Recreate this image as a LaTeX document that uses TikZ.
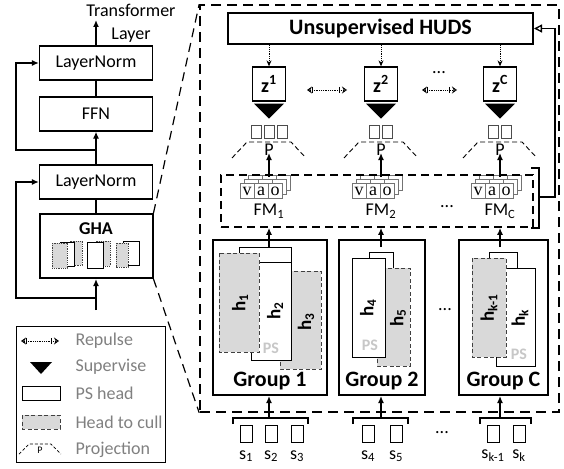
\documentclass[tikz,border=0pt]{standalone}
\usepackage{fontspec}
\setmainfont{Carlito}
\newfontfamily\vaofont{Liberation Serif}
\usetikzlibrary{arrows.meta,calc,positioning}

\newcommand\fsz[1]{\fontsize{#1}{#1}\selectfont}

\tikzset{
  lw/.style={line width=1.3pt},
  blk/.style={draw,lw,minimum width=113pt,minimum height=34pt,inner sep=0pt},
  bigbox/.style={draw,line width=1.6pt,dash pattern=on 10pt off 6pt},
  zoomln/.style={line width=1.2pt,dash pattern=on 9pt off 6pt},
  hudsbox/.style={draw,line width=2pt,minimum width=305pt,minimum height=31pt,font=\fsz{22}\bfseries},
  zbox/.style={draw,lw,minimum width=33pt,minimum height=34pt,inner sep=0pt,font=\fsz{20}\bfseries},
  grp/.style={draw,line width=2pt,minimum height=155pt},
  grplbl/.style={font=\fsz{22}\bfseries},
  headps/.style={draw,fill=white,line width=1pt},
  headcull/.style={draw=black!75,fill=black!15,line width=1pt,dash pattern=on 4pt off 2.5pt},
  mini/.style={line width=0.6pt,dash pattern=on 1pt off 0.8pt},
  hlbl/.style={rotate=90,font=\fsz{19}\bfseries},
  pslbl/.style={text=black!22,font=\fsz{16}\bfseries},
  fmbox/.style={draw,line width=1.8pt,dash pattern=on 8pt off 5pt},
  card/.style={draw=black!55,fill=white,line width=0.8pt,minimum width=14pt,minimum height=15pt,inner sep=0pt,font=\vaofont\fsz{18}},
  sq/.style={draw=black!70,line width=0.8pt,minimum width=10pt,minimum height=13pt,inner sep=0pt},
  insq/.style={draw,line width=0.9pt,minimum width=12pt,minimum height=17pt,inner sep=0pt},
  projd/.style={line width=0.9pt,dash pattern=on 5pt off 3pt},
  dotarr/.style={densely dotted,line width=0.9pt,-{Stealth[length=6pt,width=5pt]}},
  repulse/.style={densely dotted,line width=0.8pt,
    {Stealth[open,length=5pt,width=7pt,sep=2pt]Bar[width=6pt]}-{Bar[width=6pt,sep=2pt]Stealth[open,length=5pt,width=7pt]}},
  lgtxt/.style={anchor=west,text=black!50},
}

\begin{document}
\begin{tikzpicture}[x=1pt,y=-1pt,font=\fsz{18},>={Latex[length=7pt,width=6pt]}]
\useasboundingbox (0,0) rectangle (564,468);

% transformer layer
\node[blk] (ln2) at (96,63) {LayerNorm};
\node[blk] (ffn) at (96,114) {FFN};
\node[blk] (ln1) at (96,182) {LayerNorm};
\node[blk,line width=2pt,minimum height=64pt] (gha) at (96,246) {};
\node[anchor=north,font=\fsz{18}\bfseries] (ghat) at ($(gha.north)+(0,6)$) {GHA};
\node[align=center,font=\fontsize{18}{23}\selectfont] (tl) at (131,23) {Transformer\\Layer};
\coordinate (out) at (96,20);
\coordinate (r2) at (96,150);
\coordinate (r1) at (96,298);
\coordinate (in) at (96,310);
\draw[lw,->] (ln2.north) -- (out);
\draw[lw] (ffn.north) -- (ln2.south);
\draw[lw,->] (ln1.north) -- (ffn.south);
\draw[lw] (gha.north) -- (ln1.south);
\draw[lw,->] (in) -- (gha.south);
\draw[lw,->] (r2) -- ++(-80,0) |- (ln2.west);
\draw[lw,->] (r1) -- ++(-80,0) |- (ln1.west);

% heads inside GHA
\draw[headcull,mini] (70,241) rectangle (82,265);
\draw[headps,mini,solid] (60,242) rectangle (74,266);
\draw[headcull,mini] (52,243) rectangle (67,268);
\draw[headcull,mini] (96,241) rectangle (110,266);
\draw[headps,mini,solid] (87,242) rectangle (103,268);
\draw[headps,mini,solid] (123,241) rectangle (139,265);
\draw[headcull,mini] (116,243) rectangle (128,267);

% legend
\node[draw,line width=1pt,minimum width=149pt,minimum height=136pt] (lg) at (90.5,394) {};
\coordinate (lga) at (19,341);
\coordinate (lgb) at (59,341);
\draw[repulse] (lga) -- (lgb);
\fill (30,362) -- (52,362) -- (41,374) -- cycle;
\draw[headps] (22,386) rectangle (60,400);
\draw[headcull] (22,415) rectangle (60,429);
\draw[projd,line width=0.7pt,dash pattern=on 3pt off 2pt] (19,454) -- (29,444) -- (51,444) -- (61,454);
\node[font=\fsz{10}] (lgp) at (40,450) {P};
\node[lgtxt] (t1) at (72,341) {Repulse};
\node[lgtxt] (t2) at (72,367) {Supervise};
\node[lgtxt] (t3) at (72,393) {PS head};
\node[lgtxt] (t4) at (72,422) {Head to cull};
\node[lgtxt] (t5) at (72,450) {Projection};

% zoomed GHA
\node[bigbox,minimum width=359pt,minimum height=407pt] (big) at (379.5,208.5) {};
\draw[zoomln] (gha.north east) -- (big.north west);
\draw[zoomln] (gha.south east) -- (big.south west);

\node[hudsbox] (huds) at (380.5,28.5) {Unsupervised HUDS};

\foreach \c/\n in {269/1,381/2,500/C} {
  \node[zbox] (z\n) at (\c,84) {z\textsuperscript{\n}};
  \draw[dotarr] (huds.south -| z\n) -- (z\n.north);
  \fill ($(z\n.south)+(-15,2)$) -- ++(30,0) -- ++(-15,15) -- cycle;
  \draw[projd] (\c-37,158) -- (\c-22,142) -- (\c+22,142) -- (\c+37,158);
  \node (p\n) at (\c,150) {P};
  \foreach \d in {8,4}
    \foreach \i in {0,1,2}
      \node[card] (cd\n\d\i) at (\c-22+\i*14+\d,191-\d) {};
  \foreach \l [count=\i from 0] in {v,a,o}
    \node[card] (cd\n0\i) at (\c-22+\i*14,191) {\l};
  \node (fml\n) at (\c,211) {FM\textsubscript{\n}};
  \coordinate (fmt\n) at (\c,177);
  \coordinate (pt\n) at (\c,153);
  \draw[lw,->] (fmt\n) -- (pt\n);
}
\foreach \c/\k in {269/3,381/2,500/2}
  \foreach \i in {1,...,\k}
    \node[sq] (sq\c\i) at (\c+\i*13-\k*6.5-6.5,131.5) {};

\draw[repulse] (305,90) -- (347,90);
\draw[repulse] (420,90) -- (457,90);
\node (dz) at (439,73) {...};

% feature maps
\node[fmbox,minimum width=312pt,minimum height=52pt] (fm) at (377,201) {};
\node (dfm) at (447,207) {...};
\draw[lw] (531,168) -| (539,228) -- (531,228);
\coordinate (brk) at (539,197);
\draw[lw,-{Triangle[open,length=8pt,width=8pt]}] (brk) -- ++(16,0) |- (huds.east);

% group 1
\node[grp,minimum width=114pt] (g1) at (270,317.5) {};
\draw[headps] (239,247) rectangle (291,345);
\draw[headcull] (280,271) rectangle (321,369);
\draw[headps] (251,262) rectangle (291,360);
\node[pslbl] (ps1) at (271,348) {PS};
\draw[headcull] (219,253) rectangle (259,352);
\node[hlbl] (h1) at (240,303) {h\textsubscript{1}};
\node[hlbl] (h2) at (275,311) {h\textsubscript{2}};
\node[hlbl] (h3) at (306,322) {h\textsubscript{3}};
\node[grplbl] (g1l) at (270,381) {Group 1};

% group 2
\node[grp,minimum width=86pt] (g2) at (382,317.5) {};
\draw[headps] (369,252) rectangle (393,330);
\draw[headcull] (377,268) rectangle (410,366);
\draw[headps] (352,258) rectangle (385,357);
\node[pslbl] (ps2) at (370,345) {PS};
\node[hlbl] (h4) at (368,308) {h\textsubscript{4}};
\node[hlbl] (h5) at (398,318) {h\textsubscript{5}};
\node[grplbl] (g2l) at (382,381) {Group 2};

% group C
\node[grp,minimum width=89pt] (g3) at (503.5,317.5) {};
\draw[headps] (489,252) rectangle (517,330);
\draw[headps] (496,268) rectangle (535,366);
\node[pslbl] (ps3) at (519,354) {PS};
\draw[headcull] (472,258) rectangle (506,357);
\node[hlbl] (hk1) at (489,308) {h\textsubscript{k-1}};
\node[hlbl] (hk) at (520,318) {h\textsubscript{k}};
\node[grplbl] (g3l) at (503.5,381) {Group C};
\node (dg) at (445,310) {...};

% group to FM
\foreach \c in {269,381,500} {
  \coordinate (gt\c) at (\c,247);
  \draw[lw,->] (gt\c) -- (gt\c |- fm.south);
}

% inputs
\draw[lw] (233,424) |- (308,418) -- (308,424);
\draw[lw] (353,424) |- (408,418) -- (408,424);
\draw[lw] (480,424) |- (531,418) -- (531,424);
\coordinate (in1) at (269,418);
\coordinate (in2) at (381,418);
\coordinate (in3) at (500,418);
\draw[lw,->] (in1) -- (in1 |- g1.south);
\draw[lw,->] (in2) -- (in2 |- g2.south);
\draw[lw,->] (in3) -- (in3 |- g3.south);
\foreach \x/\s [count=\j] in {246/1,271/2,297/3,368/4,396/5,493/k-1,519/k} {
  \node[insq] (s\j) at (\x,433.5) {};
  \node (sl\j) at (\x,456) {s\textsubscript{\s}};
}
\node (ds) at (442,433) {...};
\end{tikzpicture}
\end{document}
